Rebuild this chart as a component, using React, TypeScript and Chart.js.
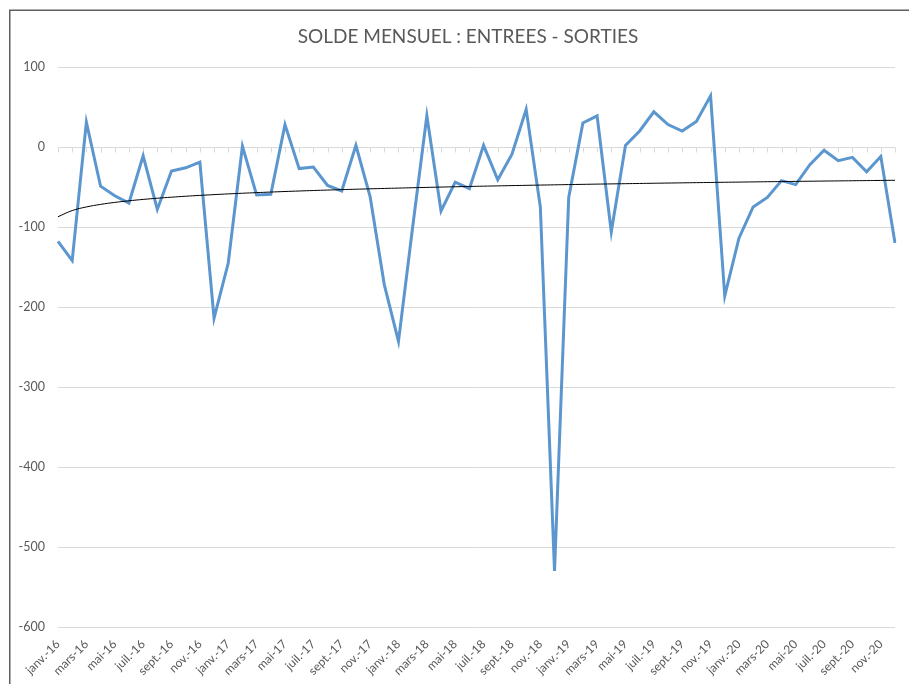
import React, { useEffect, useRef } from "react";
import { Chart, registerables } from "chart.js";

Chart.register(...registerables);

const MONTHS = ["janv.", "févr.", "mars", "avr.", "mai", "juin", "juil.", "août", "sept.", "oct.", "nov.", "déc."];
const YEARS = ["16", "17", "18", "19", "20"];
const categories: string[] = YEARS.flatMap((y) => MONTHS.map((m) => `${m}-${y}`));

const values2016 = [-118, -142, 31, -49, -61, -70, -11, -78, -30, -26, -19, -214];
const values2017 = [-145, 1, -60, -59, 28, -27, -25, -48, -55, 2, -62, -172];
const values2018 = [-243, -100, 39, -80, -44, -52, 2, -41, -9, 47, -75, -530];
const values2019 = [-63, 30, 39, -106, 2, 20, 44, 28, 20, 32, 64, -186];
const values2020 = [-114, -75, -63, -42, -47, -22, -4, -17, -13, -31, -12, -120];
const soldeValues = [...values2016, ...values2017, ...values2018, ...values2019, ...values2020];

const yTicks = { min: -600, max: 100, step: 100 };
const TITLE = "SOLDE MENSUEL : ENTREES - SORTIES";

// logarithmic trend line (least squares on ln(x)), as Excel does
function logTrend(ys: number[]): number[] {
  const n = ys.length;
  const xs = ys.map((_, i) => Math.log(i + 1));
  const mx = xs.reduce((a, b) => a + b, 0) / n;
  const my = ys.reduce((a, b) => a + b, 0) / n;
  let sxy = 0, sxx = 0;
  for (let i = 0; i < n; i++) {
    sxy += (xs[i] - mx) * (ys[i] - my);
    sxx += (xs[i] - mx) * (xs[i] - mx);
  }
  const a = sxy / sxx;
  const b = my - a * mx;
  return xs.map((x) => a * x + b);
}

const FONT = "Lato, 'Open Sans', sans-serif";

export default function App() {
  const ref = useRef<HTMLCanvasElement | null>(null);
  useEffect(() => {
    if (!ref.current) return;
    const framePlugin = {
      id: "frame",
      beforeDraw(chart: any) {
        const ctx = chart.ctx;
        ctx.save();
        ctx.fillStyle = "#ffffff";
        ctx.fillRect(0, 0, chart.width, chart.height);
        ctx.strokeStyle = "#5f5f5f";
        ctx.lineWidth = 1.5;
        ctx.beginPath();
        ctx.moveTo(9.75, chart.height + 5);
        ctx.lineTo(9.75, 10.25);
        ctx.lineTo(chart.width + 5, 10.25);
        ctx.stroke();
        ctx.fillStyle = "#595959";
        ctx.font = `19px ${FONT}`;
        ctx.textAlign = "center";
        ctx.textBaseline = "middle";
        ctx.fillText(TITLE, 468, 37);
        ctx.restore();
      },
      beforeDatasetsDraw(chart: any) {
        const ctx = chart.ctx;
        const xs = chart.scales.x;
        const ys = chart.scales.y;
        const y0 = Math.round(ys.getPixelForValue(0)) + 0.5;
        ctx.save();
        ctx.strokeStyle = "#d9d9d9";
        ctx.lineWidth = 1;
        ctx.beginPath();
        ctx.moveTo(chart.chartArea.left, y0);
        ctx.lineTo(chart.chartArea.right, y0);
        for (let i = 0; i < categories.length; i++) {
          const x = Math.round(xs.getPixelForValue(i)) + 0.5;
          ctx.moveTo(x, y0);
          ctx.lineTo(x, y0 + 5);
        }
        ctx.stroke();
        ctx.restore();
      },
    };
    const chart = new Chart(ref.current, {
      type: "line",
      data: {
        labels: categories,
        datasets: [
          {
            label: "Solde",
            data: soldeValues,
            borderColor: "#5b96cf",
            backgroundColor: "#5b96cf",
            borderWidth: 3,
            pointRadius: 0,
            tension: 0,
            order: 2,
          },
          {
            label: "Tendance",
            data: logTrend(soldeValues),
            borderColor: "#000000",
            borderWidth: 1,
            pointRadius: 0,
            tension: 0.4,
            order: 1,
          },
        ],
      },
      options: {
        responsive: false,
        animation: false,
        layout: { padding: { top: 67, right: 14, left: 0, bottom: 0 } },
        plugins: { legend: { display: false }, tooltip: { enabled: false }, title: { display: false } },
        scales: {
          x: {
            offset: false,
            grid: { display: false, drawTicks: false },
            border: { display: false },
            afterFit(scale: any) {
              scale.height = 57;
              scale.paddingLeft = 0;
              scale.paddingRight = 0;
            },
            ticks: {
              autoSkip: false,
              minRotation: 45,
              maxRotation: 45,
              padding: 10,
              color: "#595959",
              font: { family: FONT, size: 12 },
              callback(_v: any, i: number) { return i % 2 === 0 ? categories[i] : ""; },
            },
          },
          y: {
            min: yTicks.min,
            max: yTicks.max,
            grid: { color: "#d9d9d9", drawTicks: false },
            border: { display: false },
            afterFit(scale: any) {
              scale.width = 58;
              scale.paddingTop = 0;
              scale.paddingBottom = 0;
            },
            ticks: {
              stepSize: yTicks.step,
              padding: 13,
              color: "#595959",
              font: { family: FONT, size: 12.5 },
            },
          },
        },
      },
      plugins: [framePlugin],
    });
    return () => chart.destroy();
  }, []);
  return (
    <div style={{ position: "absolute", left: 0, top: 0, width: 909, height: 684, background: "#fff" }}>
      <canvas ref={ref} width={909} height={684} style={{ width: 909, height: 684, display: "block" }} />
    </div>
  );
}
